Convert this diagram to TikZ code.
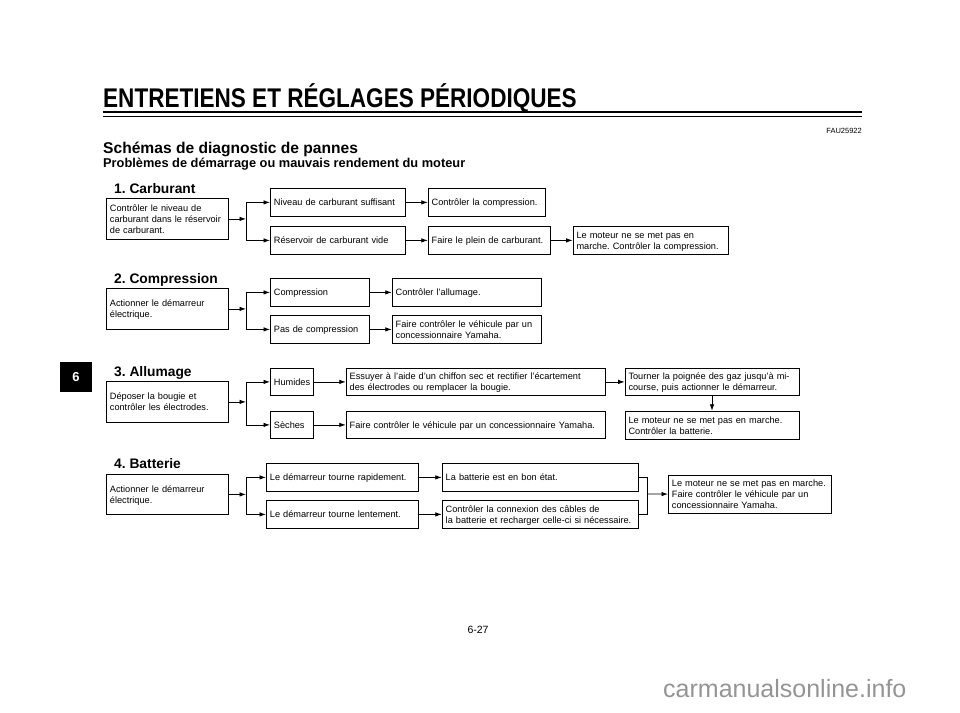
\documentclass[tikz,border=0pt]{standalone}
\usepackage{fontspec}
\setmainfont{Liberation Sans}
\newfontfamily\headfont[FakeStretch=0.835]{Liberation Sans}
\usetikzlibrary{positioning, arrows.meta}
\frenchspacing
\tikzstyle{box} = [rectangle, draw=black, line width=0.8pt, align=left, inner xsep=3.5pt, inner ysep=1pt, minimum height=28pt, font=\fontsize{9.2}{11}\selectfont, execute at begin node={\rule{0pt}{9pt}}, execute at end node={\rule[-2pt]{0pt}{2pt}}]
\tikzstyle{check} = [box, text width=115pt, minimum height=41pt]
\tikzstyle{section} = [anchor=base west, inner sep=0pt, font=\bfseries\fontsize{13.8}{15}\selectfont]
\tikzstyle{line} = [line width=0.8pt]
\tikzstyle{arrow} = [line width=0.8pt, -{Latex[length=6.5pt,width=4.5pt]}]

\begin{document}
\begin{tikzpicture}[x=1pt, y=-1pt, node distance=22pt]
      \useasboundingbox (0,0) rectangle (960,712);
      % Page header
      \node (head) [anchor=base west, inner sep=0pt, font=\headfont\bfseries\fontsize{27}{27}\selectfont] at (103,107) {ENTRETIENS ET RÉGLAGES PÉRIODIQUES};
      \draw [line width=2.6pt] (head.base west |- 0,112) -- (862,112);
      \draw [line width=0.8pt] (head.base west |- 0,116) -- (862,116);
      \node (ref) [anchor=base east, inner sep=0pt, font=\fontsize{7.5}{7.5}\selectfont] at (862,133) {FAU25922};
      \node (title) [anchor=base west, inner sep=0pt, font=\bfseries\fontsize{15.6}{17}\selectfont] at (103,153) {Schémas de diagnostic de pannes};
      \node (subtitle) [anchor=base west, inner sep=0pt, font=\bfseries\fontsize{12.8}{13}\selectfont] at (103,167) {Problèmes de démarrage ou mauvais rendement du moteur};
      \node (tab) [fill=black, text=white, minimum width=32pt, minimum height=30pt, font=\bfseries\fontsize{13}{13}\selectfont] at (76,377) {6};

      % 1. Carburant
      \node (fuelhead) [section] at (114,193) {1. Carburant};
      \node (fuelchk) [check, anchor=north west] at (106,198) {Contrôler le niveau de\\carburant dans le réservoir\\de carburant.};
      \node (fuelok) [box, text width=128pt, anchor=north west] at (270,188) {Niveau de carburant suffisant};
      \node (fuelempty) [box, text width=128pt, anchor=north west] at (270,226) {Réservoir de carburant vide};
      \node (fuelcomp) [box, text width=110pt, right=of fuelok] {Contrôler la compression.};
      \node (fuelfill) [box, text width=115pt, right=of fuelempty] {Faire le plein de carburant.};
      \node (fuelstop) [box, text width=148pt, right=of fuelfill] {Le moteur ne se met pas en\\marche. Contrôler la compression.};
      \coordinate (fuelsplit) at (246,219);

      % 2. Compression
      \node (comphead) [section] at (114,283) {2. Compression};
      \node (compchk) [check, anchor=north west] at (106,288) {Actionner le démarreur\\électrique.};
      \node (compok) [box, text width=92pt, anchor=north west] at (270,278) {Compression};
      \node (compnone) [box, text width=92pt, anchor=north west] at (270,315) {Pas de compression};
      \node (compign) [box, text width=142pt, right=of compok] {Contrôler l’allumage.};
      \node (compdeal) [box, text width=142pt, right=of compnone] {Faire contrôler le véhicule par un\\concessionnaire Yamaha.};
      \coordinate (compsplit) at (246,308);

      % 3. Allumage
      \node (ignhead) [section] at (114,376) {3. Allumage};
      \node (ignchk) [check, anchor=north west] at (106,381) {Déposer la bougie et\\contrôler les électrodes.};
      \node (ignwet) [box, text width=36pt, minimum height=27pt, anchor=north west] at (270,368) {Humides};
      \node (igndry) [box, text width=36pt, minimum height=27pt, anchor=north west] at (270,411) {Sèches};
      \node (ignwipe) [box, text width=252pt, minimum height=27pt, right=32pt of ignwet] {Essuyer à l’aide d’un chiffon sec et rectifier l’écartement\\des électrodes ou remplacer la bougie.};
      \node (igndeal) [box, text width=252pt, minimum height=27pt, right=32pt of igndry] {Faire contrôler le véhicule par un concessionnaire Yamaha.};
      \node (igngas) [box, text width=167pt, minimum height=27pt, right=19pt of ignwipe] {Tourner la poignée des gaz jusqu’à mi-\\course, puis actionner le démarreur.};
      \node (ignstop) [box, text width=167pt, below=15pt of igngas] {Le moteur ne se met pas en marche.\\Contrôler la batterie.};
      \coordinate (ignsplit) at (246,402);

      % 4. Batterie
      \node (batthead) [section] at (114,468) {4. Batterie};
      \node (battchk) [check, minimum height=40pt, anchor=north west] at (106,474) {Actionner le démarreur\\électrique.};
      \node (battfast) [box, text width=145pt, anchor=north west] at (266,463) {Le démarreur tourne rapidement.};
      \node (battslow) [box, text width=145pt, anchor=north west] at (266,500) {Le démarreur tourne lentement.};
      \node (battok) [box, text width=189pt, right=23pt of battfast] {La batterie est en bon état.};
      \node (battwire) [box, text width=189pt, right=23pt of battslow] {Contrôler la connexion des câbles de\\la batterie et recharger celle-ci si nécessaire.};
      \node (battstop) [box, text width=156pt, minimum height=38pt, anchor=north west] at (668,475) {Le moteur ne se met pas en marche.\\Faire contrôler le véhicule par un\\concessionnaire Yamaha.};
      \coordinate (battsplit) at (246,494);
      \coordinate (battjoin) at (647,494);

      % Footer
      \node (page) [anchor=base, inner sep=0pt, font=\fontsize{10.5}{11}\selectfont] at (478,633) {6-27};
      \node (mark) [anchor=base west, inner sep=0pt, text=black!42, font=\fontsize{25}{25}\selectfont] at (663,697) {carmanualsonline.info};

      % Arrows
      \draw [arrow] (fuelchk) -- (fuelchk -| fuelsplit);
      \draw [line] (fuelok -| fuelsplit) -- (fuelempty -| fuelsplit);
      \draw [arrow] (fuelok -| fuelsplit) -- (fuelok);
      \draw [arrow] (fuelempty -| fuelsplit) -- (fuelempty);
      \draw [arrow] (fuelok) -- (fuelcomp);
      \draw [arrow] (fuelempty) -- (fuelfill);
      \draw [arrow] (fuelfill) -- (fuelstop);

      \draw [arrow] (compchk) -- (compchk -| compsplit);
      \draw [line] (compok -| compsplit) -- (compnone -| compsplit);
      \draw [arrow] (compok -| compsplit) -- (compok);
      \draw [arrow] (compnone -| compsplit) -- (compnone);
      \draw [arrow] (compok) -- (compign);
      \draw [arrow] (compnone) -- (compdeal);

      \draw [arrow] (ignchk) -- (ignchk -| ignsplit);
      \draw [line] (ignwet -| ignsplit) -- (igndry -| ignsplit);
      \draw [arrow] (ignwet -| ignsplit) -- (ignwet);
      \draw [arrow] (igndry -| ignsplit) -- (igndry);
      \draw [arrow] (ignwet) -- (ignwipe);
      \draw [arrow] (igndry) -- (igndeal);
      \draw [arrow] (ignwipe) -- (igngas);
      \draw [arrow] (igngas) -- (ignstop);

      \draw [arrow] (battchk) -- (battchk -| battsplit);
      \draw [line] (battfast -| battsplit) -- (battslow -| battsplit);
      \draw [arrow] (battfast -| battsplit) -- (battfast);
      \draw [arrow] (battslow -| battsplit) -- (battslow);
      \draw [arrow] (battfast) -- (battok);
      \draw [arrow] (battslow) -- (battwire);
      \draw [line] (battok) -| (battjoin) |- (battwire);
      \draw [arrow] (battjoin) -- (battstop);
    \end{tikzpicture}
\end{document}
